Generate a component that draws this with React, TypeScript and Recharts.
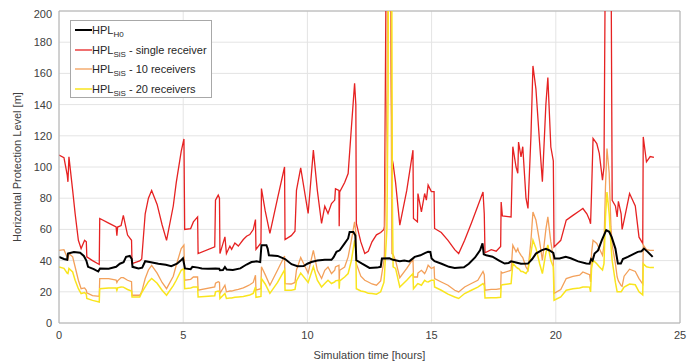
import React from 'react';
import { LineChart, Line, XAxis, YAxis, CartesianGrid, ReferenceLine } from 'recharts';

// HPL_H0 (black)
const h0Times = [0, 0.2, 0.33, 0.36, 0.6, 0.85, 1.0, 1.1, 1.17, 1.4, 1.58, 1.65, 2.0, 2.3, 2.45, 2.6, 2.7, 2.85, 2.93, 2.96, 3.2, 3.35, 3.47, 3.7, 4.0, 4.3, 4.52, 4.75, 4.9, 4.99, 5.07, 5.3, 5.37, 5.6, 5.75, 6.0, 6.3, 6.45, 6.48, 6.6, 6.68, 6.75, 7.0, 7.3, 7.55, 7.75, 7.95, 8.1, 8.15, 8.35, 8.4, 8.45, 8.8, 9.1, 9.36, 9.6, 9.85, 10.0, 10.16, 10.4, 10.7, 10.97, 11.05, 11.17, 11.3, 11.5, 11.64, 11.7, 11.85, 11.93, 11.97, 12.2, 12.5, 12.8, 12.95, 13.0, 13.3, 13.45, 13.72, 13.9, 14.1, 14.32, 14.55, 14.75, 14.86, 14.95, 15.0, 15.12, 15.4, 15.7, 15.93, 16.3, 16.5, 16.75, 16.95, 17.05, 17.1, 17.2, 17.45, 17.7, 17.94, 18.1, 18.2, 18.4, 18.6, 18.88, 19.05, 19.2, 19.42, 19.6, 19.75, 19.9, 19.95, 20.15, 20.4, 20.6, 20.9, 21.23, 21.36, 21.42, 21.48, 21.56, 21.7, 21.85, 22.03, 22.15, 22.25, 22.4, 22.5, 22.62, 22.7, 22.9, 23.3, 23.45, 23.55, 23.7, 23.9];
const h0Values = [42.4, 41, 40.5, 44.5, 45.5, 45, 43, 40, 36, 34.5, 33, 35, 34.8, 36, 38, 39, 42.4, 43, 41, 36, 35, 35.5, 39.6, 39, 38, 37.3, 36.4, 38, 40, 41.5, 35, 34.5, 36, 35.5, 35, 34.7, 35, 34.8, 33.8, 34, 35.9, 34.3, 34, 35, 37.5, 39.1, 39.5, 39, 49.9, 49.9, 47.7, 43.4, 43, 41, 37.7, 36.4, 36.5, 38, 39.1, 40, 40.5, 40.5, 42, 45.6, 46.6, 51, 54.2, 58.4, 58.4, 56, 40.2, 38, 35.3, 35.5, 36, 41.3, 41.5, 40.5, 39.6, 40, 39.5, 42.4, 43.4, 45, 45.6, 45.5, 41.3, 39.6, 38, 36, 35.3, 35.7, 38, 42, 46.6, 51, 44, 43.4, 42.5, 40.2, 38.1, 38.5, 39.5, 38.8, 38, 38.1, 41, 44.5, 46.6, 47.5, 46.5, 45, 41.3, 41.3, 42.4, 41.5, 39.5, 38.1, 38, 41, 40, 44.5, 46.5, 53, 59.5, 58.5, 55, 47.7, 38.1, 38.1, 41, 42.4, 45.6, 46, 47.7, 45.6, 42.4];

// HPL_SiS series share one time grid
const sisTimes = [0, 0.2, 0.33, 0.36, 0.4, 0.55, 0.65, 0.78, 0.89, 1.03, 1.1, 1.12, 1.35, 1.62, 1.64, 2.0, 2.3, 2.33, 2.36, 2.5, 2.59, 2.76, 2.92, 2.94, 3.25, 3.33, 3.47, 3.6, 3.73, 3.95, 4.15, 4.33, 4.6, 4.72, 4.92, 5.03, 5.06, 5.3, 5.41, 5.58, 5.6, 6.27, 6.3, 6.41, 6.46, 6.48, 6.68, 6.74, 6.88, 6.95, 7.08, 7.22, 7.42, 7.55, 7.68, 7.82, 7.91, 7.93, 8.13, 8.15, 8.3, 8.49, 8.8, 9.08, 9.1, 9.35, 9.5, 9.56, 9.73, 10.03, 10.24, 10.4, 10.57, 10.7, 10.83, 10.97, 11.1, 11.13, 11.27, 11.28, 11.3, 11.5, 11.64, 11.77, 11.9, 11.95, 11.97, 12.15, 12.31, 12.45, 12.6, 12.78, 12.95, 13.08, 13.1, 13.2, 13.25, 13.28, 13.3, 13.33, 13.38, 13.4, 13.42, 13.45, 13.55, 13.72, 14.0, 14.25, 14.27, 14.43, 14.45, 14.59, 14.72, 14.79, 14.86, 14.99, 15.1, 15.12, 15.39, 15.66, 15.93, 16.09, 16.33, 16.6, 16.86, 17.07, 17.12, 17.15, 17.4, 17.6, 17.78, 17.8, 17.85, 18.2, 18.27, 18.4, 18.47, 18.5, 18.6, 18.67, 18.8, 18.88, 19.0, 19.08, 19.2, 19.35, 19.46, 19.6, 19.68, 19.8, 19.9, 19.93, 20.2, 20.42, 20.69, 20.96, 21.09, 21.25, 21.36, 21.4, 21.44, 21.5, 21.65, 21.75, 21.88, 21.94, 22.0, 22.06, 22.15, 22.22, 22.27, 22.4, 22.47, 22.52, 22.63, 22.67, 22.75, 22.97, 23.2, 23.35, 23.5, 23.52, 23.65, 23.8, 23.95];
const singleRx = [107.6, 106, 95, 90.5, 106.5, 85, 70, 53, 47.7, 53, 52, 42.4, 40, 37.5, 67, 64, 61.6, 56, 61.5, 62.5, 69, 56.4, 53, 38.1, 39.8, 41, 70, 80, 85, 76, 63, 53, 75, 90, 110, 118, 60, 60.5, 64.8, 68, 44.5, 48.8, 78.7, 82, 80, 44.5, 55.2, 44.5, 49.3, 47.2, 51.3, 49.3, 53.5, 55.6, 56.7, 59.9, 66.3, 47.2, 51.3, 86.2, 72, 57.4, 80, 100, 53.5, 56, 58.8, 85, 99.5, 70.2, 110.8, 85, 63.8, 74.9, 70.2, 76.6, 78.8, 86, 85, 62, 84, 90, 95.8, 125, 153.6, 140, 63.8, 52, 44.5, 46, 52, 56.5, 58, 60, 62, 300, 300, 300, 300, 240, 150, 120, 104.4, 102, 90, 62.7, 85, 110.8, 67, 64.8, 83, 71.3, 83, 78.8, 88.4, 84.2, 84.2, 60.6, 58, 53, 47, 44.5, 53, 64, 75, 84, 70, 45, 47, 46, 49, 77.6, 68.6, 68, 113, 100, 96, 116, 106.5, 113, 80, 73.4, 120, 164.8, 150, 115, 90.5, 140, 157.4, 112.8, 104, 48.8, 53, 65.9, 69, 72, 73.4, 70, 66, 63.6, 84, 118.3, 115, 108.7, 91.6, 100, 250, 400, 400, 250, 78.7, 75, 68, 78, 70, 60, 66, 83, 75, 55, 51, 119.3, 103.3, 106.7, 106.1];
const tenRx = [46.6, 47, 42, 40.2, 44.5, 42.4, 35.9, 27.4, 22, 22.5, 21, 19.3, 17.5, 17.1, 28.5, 28.5, 27.5, 26, 27, 29.1, 29.1, 27.4, 26.5, 17.8, 17.8, 20, 28.5, 34, 37, 32, 26, 22, 30, 37, 47.7, 49.9, 27.4, 28, 29.5, 29.5, 21, 23.1, 25.5, 26.5, 26, 19, 24.2, 20, 20.5, 20.5, 21, 21.5, 22.5, 23.5, 24.5, 26, 30.6, 21, 22, 36, 31, 24.2, 34, 43, 25.3, 25, 26, 34, 42, 32, 46.6, 33.8, 28.5, 33.8, 35.9, 31.7, 33.8, 36, 37, 27.4, 33.8, 35.9, 42.4, 53, 64.8, 58, 38, 30, 27.4, 26.3, 25, 24.2, 27, 40, 44, 150, 300, 300, 300, 300, 120, 44.5, 44.5, 44, 40, 29, 35, 41, 29.5, 29.5, 32, 33.8, 31.7, 33.8, 37, 34.9, 35.9, 28.5, 26.3, 24.2, 21, 19.9, 23.1, 25.3, 27.4, 33, 31, 21, 21.5, 21.5, 22, 32.7, 32, 33.8, 49.9, 45.6, 47.7, 46, 43.4, 42, 35.9, 33.8, 53, 71.2, 66, 52, 40.2, 60, 68, 52, 42, 19, 21.5, 28.5, 29.9, 30.6, 32.7, 31.7, 31, 26.3, 45, 53, 51, 47.7, 43.4, 49.9, 87.3, 111.9, 96, 61.6, 50, 38, 29.5, 27, 24, 23.5, 30, 34.5, 33, 28.5, 25, 50, 47, 46.6, 46.6];
const twentyRx = [35.9, 35, 32, 31.7, 34.9, 32.7, 27.4, 22, 18.9, 19.5, 18.5, 15.7, 14.5, 13.5, 22, 22.5, 22.5, 21, 22.5, 23.1, 23, 21.5, 20.5, 16.7, 16.7, 19.5, 23.1, 26.5, 28.5, 25.5, 21, 17.8, 24, 27.4, 33.8, 34.9, 22, 22.5, 23, 23.1, 16.7, 17.5, 20, 20.5, 20, 15.7, 18.9, 15.7, 16, 16, 16.5, 16.7, 17, 17.5, 18, 19, 23, 16.5, 17, 28.5, 25, 19, 26, 34, 21, 21, 21.5, 27, 32, 26, 36, 27.4, 23.1, 25.3, 27.4, 25.3, 26.3, 27, 27.4, 22, 27, 29.5, 31.7, 40, 53, 47, 22, 20.5, 20, 19, 18.9, 18.5, 20, 26, 30, 60, 150, 400, 400, 400, 400, 200, 80, 36, 35, 23.1, 27.4, 31.7, 22, 25, 25.3, 24.2, 27.4, 26.5, 26.3, 27.4, 27.4, 23.1, 21, 18.5, 16.7, 15.7, 18.9, 21, 23, 25.3, 24, 16, 16.2, 16.2, 16.5, 24.2, 24.5, 25.3, 38.1, 35.9, 35, 35, 33, 33, 31.7, 33.8, 45, 53.1, 48, 38, 31.7, 45, 50, 40, 36, 14.6, 16.7, 21, 22, 22.5, 23.1, 23.1, 23, 19.9, 35, 40.2, 38, 36, 34, 38, 68, 84, 70, 50, 40, 26, 20, 20, 20, 21, 23, 25, 24.5, 20, 18, 38, 36, 35.5, 35.5];

const xTicks = [0, 5, 10, 15, 20, 25];
const yTicks = [0, 20, 40, 60, 80, 100, 120, 140, 160, 180, 200];

const h0Data = h0Times.map((t, i) => ({ t, h0: h0Values[i] }));
const sisData = sisTimes.map((t, i) => ({ t, single: singleRx[i], ten: tenRx[i], twenty: twentyRx[i] }));

const FONT = '"Liberation Sans", Arial, Helvetica, sans-serif';
const RED = '#e62222';
const ORANGE = '#f3a05a';
const YELLOW = '#f9e51e';

const legendItems = [
  { color: '#000000', sub: 'H0', rest: '', width: 2 },
  { color: RED, sub: 'SiS', rest: ' - single receiver', width: 1.3 },
  { color: ORANGE, sub: 'SiS', rest: ' - 10 receivers', width: 1.3 },
  { color: YELLOW, sub: 'SiS', rest: ' - 20 receivers', width: 1.5 },
];

export default function App() {
  return (
    <div style={{ position: 'relative', width: 692, height: 356, fontFamily: FONT }}>
      <LineChart width={692} height={356} data={sisData} margin={{ top: 3, right: 20, bottom: 0, left: 0 }}>
        <CartesianGrid stroke="#e4e4e4" strokeWidth={1} />
        <XAxis
          dataKey="t"
          type="number"
          domain={[0, 25]}
          ticks={xTicks}
          allowDataOverflow
          height={41}
          tickSize={0}
          tickMargin={8}
          stroke="#b0b0b0"
          tick={{ fill: '#404040', fontSize: 11, fontFamily: FONT }}
          label={{ value: 'Simulation time [hours]', position: 'insideBottom', offset: 5, fill: '#404040', fontSize: 11, fontFamily: FONT }}
        />
        <YAxis
          type="number"
          domain={[0, 200]}
          ticks={yTicks}
          allowDataOverflow
          width={51}
          tickSize={0}
          tickMargin={7}
          stroke="#b0b0b0"
          tick={{ fill: '#404040', fontSize: 11, fontFamily: FONT }}
          label={{ value: 'Horizontal Protection Level [m]', angle: -90, position: 'insideLeft', offset: 9, fill: '#404040', fontSize: 11, fontFamily: FONT, style: { textAnchor: 'middle' } }}
        />
        <ReferenceLine y={200} stroke="#b0b0b0" ifOverflow="extendDomain" />
        <ReferenceLine x={25} stroke="#b0b0b0" ifOverflow="extendDomain" />
        <Line dataKey="single" type="linear" stroke={RED} strokeWidth={1.3} dot={false} activeDot={false} isAnimationActive={false} />
        <Line dataKey="ten" type="linear" stroke={ORANGE} strokeWidth={1.3} dot={false} activeDot={false} isAnimationActive={false} />
        <Line dataKey="twenty" type="linear" stroke={YELLOW} strokeWidth={1.5} dot={false} activeDot={false} isAnimationActive={false} />
        <Line data={h0Data} dataKey="h0" type="linear" stroke="#000000" strokeWidth={2} dot={false} activeDot={false} isAnimationActive={false} />
      </LineChart>
      <div
        style={{
          position: 'absolute',
          left: 62,
          top: 12,
          width: 140,
          height: 76,
          background: '#ffffff',
          border: '1px solid #a8a8a8',
          fontSize: 11,
          color: '#262626',
          boxSizing: 'content-box',
        }}
      >
        {legendItems.map((it, i) => (
          <div key={i} style={{ position: 'absolute', left: 4, top: 1 + i * 19.7, height: 16, display: 'flex', alignItems: 'center', whiteSpace: 'nowrap' }}>
            <svg width={17} height={16} style={{ display: 'block' }}>
              <line x1={0} y1={8} x2={17} y2={8} stroke={it.color} strokeWidth={it.width} />
            </svg>
            <span style={{ lineHeight: '16px' }}>
              HPL<sub style={{ fontSize: 8, verticalAlign: '-3px', lineHeight: 0 }}>{it.sub}</sub>{it.rest}
            </span>
          </div>
        ))}
      </div>
    </div>
  );
}
